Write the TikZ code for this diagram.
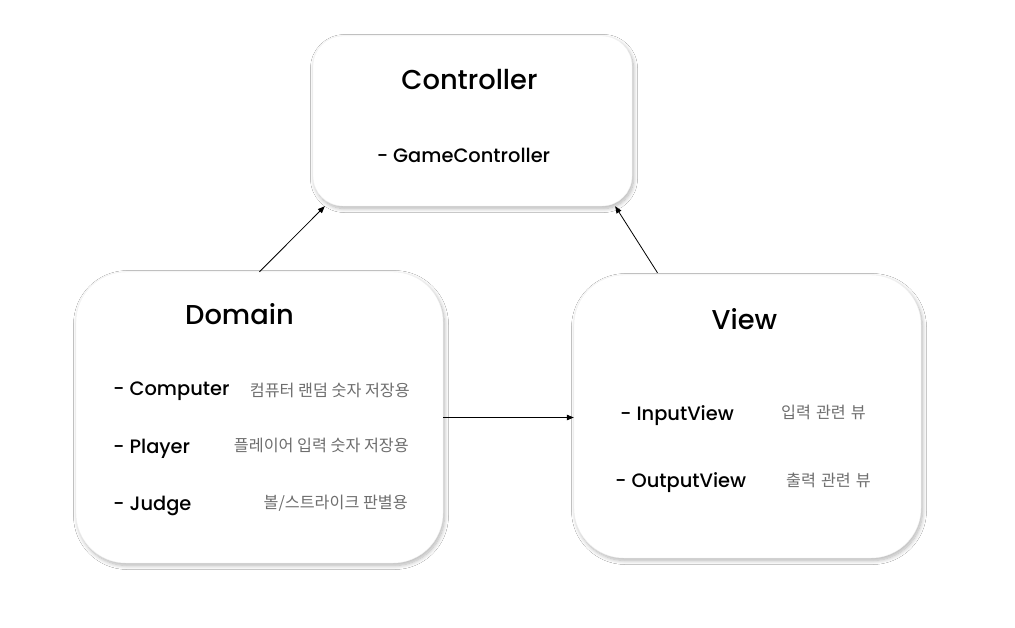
\documentclass[tikz,border=0pt]{standalone}
\usepackage{fontspec}
\setmainfont{Poppins}[UprightFont=* Medium]
\newfontfamily\kr{Noto Sans CJK KR}
\usetikzlibrary{arrows.meta,calc,shadows.blur}
\definecolor{krgray}{HTML}{6E6E6E}
\tikzset{
  box/.style={rectangle, fill=white, draw=black!5, line width=0.4pt,
    blur shadow={shadow xshift=1.5pt, shadow yshift=-2.5pt, shadow blur radius=4pt, shadow blur steps=10, shadow opacity=30}},
  title/.style={font=\fontsize{27.3}{32}\selectfont, text=black, inner sep=0pt},
  item/.style={font=\fontsize{19.4}{23}\selectfont, text=black, inner sep=0pt},
  note/.style={font=\kr\fontsize{16.2}{19}\selectfont, text=krgray, inner sep=0pt},
  conn/.style={line width=0.8pt, -{Triangle[length=7pt,width=5.5pt]}}
}
\begin{document}
\begin{tikzpicture}[x=1pt,y=-1pt]
\useasboundingbox (0,0) rectangle (1015,627);
\fill[white] (0,0) rectangle (1015,627);
\node[box, rounded corners=30pt, minimum width=319pt, minimum height=170pt] (ctrl) at (472.5,121) {};
\node[box, rounded corners=50pt, minimum width=367pt, minimum height=291pt] (dom) at (259.5,417.5) {};
\node[box, rounded corners=50pt, minimum width=347pt, minimum height=283pt] (view) at (747.5,416.5) {};

\node[title] (ctrlt) at (469.5,80) {Controller};
\node[item] (gc) at (463.5,155) {- GameController};

\node[title] (domt) at (239.5,314) {Domain};
\node[item, anchor=west] (comp) at (113,391) {- Computer};
\node[note, anchor=east] (compn) at (410,390) {컴퓨터 랜덤 숫자 저장용};
\node[item, anchor=west] (play) at (113,449) {- Player};
\node[note, anchor=east] (playn) at (409,445) {플레이어 입력 숫자 저장용};
\node[item, anchor=west] (judge) at (113,506) {- Judge};
\node[note, anchor=east] (judgen) at (408,503) {볼/스트라이크 판별용};

\node[title] (viewt) at (744.5,319) {View};
\node[item, anchor=west] (inv) at (620,416) {- InputView};
\node[note, anchor=west] (invn) at (781,412) {입력\hspace{5pt}관련\hspace{5pt}뷰};
\node[item, anchor=west] (outv) at (615,483) {- OutputView};
\node[note, anchor=west] (outvn) at (786,480) {출력\hspace{5pt}관련\hspace{5pt}뷰};

\draw[conn] (dom.north) -- ($(ctrl.south west)+(12,0)$);
\draw[conn] ($(view.north)+(-90,-2)$) -- ($(ctrl.south east)+(-17,0)$);
\draw[conn] (dom.east) -- (dom.east -| view.west);
\end{tikzpicture}
\end{document}
